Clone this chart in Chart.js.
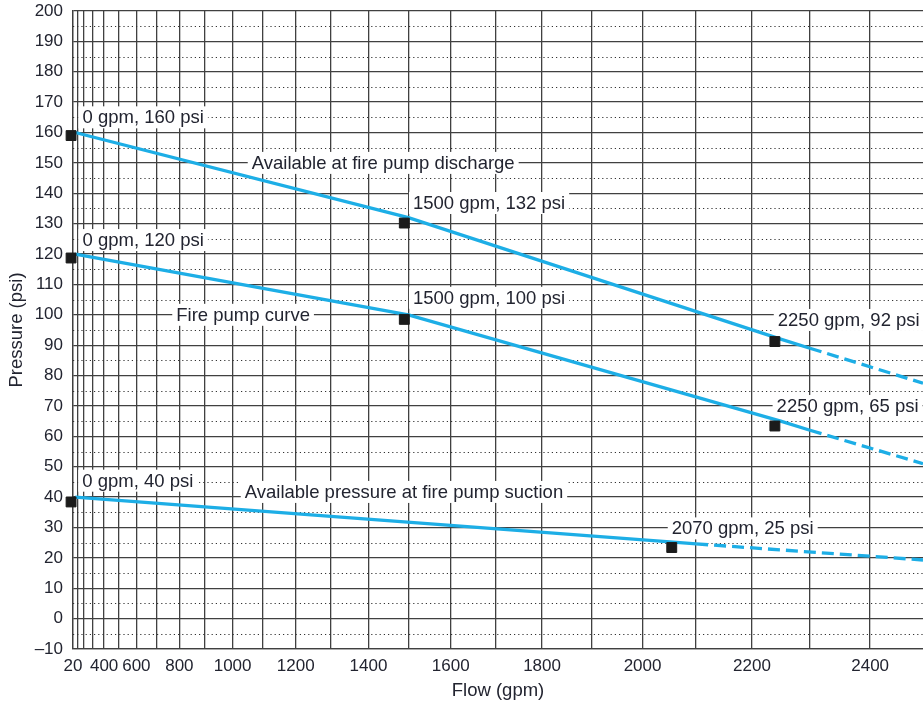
<!DOCTYPE html>
<html>
<head>
<meta charset="utf-8">
<style>
  html, body { margin: 0; padding: 0; background: #fff; }
  #wrap { width: 923px; height: 704px; }
</style>
</head>
<body>
<div id="wrap"><canvas id="chart"></canvas></div>
<script src="https://cdn.jsdelivr.net/npm/chart.js@4/dist/chart.umd.min.js"></script>
<script>
// Fire pump curve on hydraulic graph paper (flow axis is an N^1.85 scale)

const FLOW_MIN = -100;
const FLOW_MAX = 2485;
const PSI_MIN = -10;
const PSI_MAX = 200;

// vertical grid lines every 100 gpm, labels only where the paper prints them
const FLOW_GRID = [-100, 100, 200, 300, 400, 500, 600, 700, 800, 900, 1000, 1100, 1200,
    1300, 1400, 1500, 1600, 1700, 1800, 1900, 2000, 2100, 2200, 2300, 2400];
const FLOW_LABEL_AT = [-100, 400, 600, 800, 1000, 1200, 1400, 1600, 1800, 2000, 2200, 2400];
const FLOW_LABELS = ['20', '400', '600', '800', '1000', '1200', '1400', '1600', '1800', '2000', '2200', '2400'];

// dotted half lines between the 10 psi grid
const DOTTED_PSI = [195, 185, 175, 165, 155, 145, 135, 125, 115, 105, 95, 85, 75, 65, 55, 45, 35, 25, 15, 5, -5];

// curves (last points are where the dashed extension starts / leaves the paper)
const DISCHARGE_FLOW = [0, 1500, 2250, 2300, 2485];
const DISCHARGE_PSI = [160, 132, 92, 89, 77.5];
const PUMP_FLOW = [0, 1500, 2250, 2300, 2485];
const PUMP_PSI = [120, 100, 65, 62, 51];
const SUCTION_FLOW = [0, 2070, 2100, 2485];
const SUCTION_PSI = [40, 25, 24.6, 19.3];
const DASH_FROM = [2300, 2300, 2100];

// black square markers (drawn a little off the curves, as on the paper)
const MARK_FLOW = [-140, 1490, 2240, -140, 1490, 2240, -140, 2055];
const MARK_PSI = [159, 130.2, 91.2, 118.7, 98.5, 63.4, 38.4, 23.4];

// callouts: text, left edge flow, centre psi
const NOTE_TEXT = ['0 gpm, 160 psi', 'Available at fire pump discharge', '1500 gpm, 132 psi',
    '0 gpm, 120 psi', '1500 gpm, 100 psi', 'Fire pump curve', '2250 gpm, 92 psi',
    '2250 gpm, 65 psi', '0 gpm, 40 psi', 'Available pressure at fire pump suction', '2070 gpm, 25 psi'];
const NOTE_FLOW = [190, 1064, 1511, 190, 1511, 787, 2245, 2243, 187, 1041, 2055];
const NOTE_PSI = [165, 150, 136.8, 124.6, 105.6, 100, 98.3, 70, 45.4, 41.7, 29.7];

const FONT = '"Liberation Sans", Arial, sans-serif';
const INK = '#222430';
const GRID = '#404040';
const BLUE = '#1DAEE6';

// ── N^1.85 scale ──
const LinearScale = Chart.LinearScale || Chart.registry.getScale('linear');
const EXP = 1.85;
const pw = (v) => Math.sign(v) * Math.pow(Math.abs(v), EXP);
const unpw = (t) => Math.sign(t) * Math.pow(Math.abs(t), 1 / EXP);

class FlowScale extends LinearScale {
    getPixelForValue(value) {
        const a = pw(this.min), b = pw(this.max);
        return this.getPixelForDecimal((pw(value) - a) / (b - a));
    }
    getValueForPixel(pixel) {
        const a = pw(this.min), b = pw(this.max);
        return unpw(a + this.getDecimalForPixel(pixel) * (b - a));
    }
}
FlowScale.id = 'flow';
FlowScale.defaults = LinearScale.defaults;
Chart.register(FlowScale);

// dotted lines + white-boxed callouts, under the curves
const paper = {
    id: 'paper',
    beforeDatasetsDraw(chart) {
        const { ctx, chartArea: a, scales: { x, y } } = chart;
        ctx.save();
        ctx.strokeStyle = '#333';
        ctx.lineWidth = 1.2;
        ctx.setLineDash([1.2, 3]);
        DOTTED_PSI.forEach((p) => {
            const py = Math.round(y.getPixelForValue(p)) + 0.5;
            ctx.beginPath();
            ctx.moveTo(a.left, py);
            ctx.lineTo(a.right, py);
            ctx.stroke();
        });
        ctx.setLineDash([]);

        ctx.font = '18.5px ' + FONT;
        ctx.textBaseline = 'middle';
        NOTE_TEXT.forEach((t, i) => {
            const px = x.getPixelForValue(NOTE_FLOW[i]);
            const py = y.getPixelForValue(NOTE_PSI[i]);
            const w = ctx.measureText(t).width;
            ctx.fillStyle = '#fff';
            ctx.fillRect(px - 4, py - 11, w + 8, 22);
            ctx.fillStyle = INK;
            ctx.fillText(t, px, py + 1);
        });
        ctx.restore();
    },
};

const curve = (flow, psi, dashFrom) => ({
    type: 'line',
    data: flow.map((q, i) => ({ x: q, y: psi[i] })),
    borderColor: BLUE,
    borderWidth: 3.3,
    pointRadius: 0,
    tension: 0,
    fill: false,
    segment: { borderDash: (c) => (c.p0.parsed.x >= dashFrom ? [12, 6] : undefined) },
});

Chart.defaults.font.family = FONT;
Chart.defaults.color = INK;

new Chart(document.getElementById('chart'), {
    type: 'line',
    data: {
        datasets: [
            {
                type: 'scatter',
                data: MARK_FLOW.map((q, i) => ({ x: q, y: MARK_PSI[i] })),
                pointStyle: 'rect',
                pointRadius: 7,
                backgroundColor: '#1b1b1b',
                borderColor: '#1b1b1b',
                borderWidth: 1,
                clip: false,
            },
            curve(DISCHARGE_FLOW, DISCHARGE_PSI, DASH_FROM[0]),
            curve(PUMP_FLOW, PUMP_PSI, DASH_FROM[1]),
            curve(SUCTION_FLOW, SUCTION_PSI, DASH_FROM[2]),
        ],
    },
    options: {
        responsive: true,
        maintainAspectRatio: false,
        animation: false,
        layout: { autoPadding: false, padding: { top: 11, left: 0, right: 0, bottom: 0 } },
        plugins: { legend: { display: false }, tooltip: { enabled: false } },
        scales: {
            x: {
                type: 'flow',
                min: FLOW_MIN,
                max: FLOW_MAX,
                bounds: 'data',
                afterBuildTicks: (ax) => { ax.ticks = FLOW_GRID.map((v) => ({ value: v })); },
                afterFit: (ax) => { ax.height = 55; ax.paddingLeft = 0; ax.paddingRight = 0; },
                grid: { color: GRID, lineWidth: 1.3, drawTicks: false },
                border: { color: GRID, width: 1.3 },
                ticks: {
                    autoSkip: false,
                    maxRotation: 0,
                    padding: 7,
                    font: { size: 17 },
                    callback: (v) => {
                        const i = FLOW_LABEL_AT.indexOf(v);
                        return i < 0 ? '' : FLOW_LABELS[i];
                    },
                },
                title: { display: true, text: 'Flow (gpm)', font: { size: 18.5 }, padding: { top: 0, bottom: 2 } },
            },
            y: {
                type: 'linear',
                min: PSI_MIN,
                max: PSI_MAX,
                afterFit: (ax) => { ax.width = 73; ax.paddingTop = 0; ax.paddingBottom = 0; },
                grid: { color: GRID, lineWidth: 1.3, drawTicks: false },
                border: { color: GRID, width: 1.3 },
                ticks: {
                    stepSize: 10,
                    padding: 10,
                    font: { size: 17 },
                    callback: (v) => (v < 0 ? '\u2013' + (-v) : String(v)),
                },
                title: { display: true, text: 'Pressure (psi)', font: { size: 18.5 }, padding: { top: 6, bottom: 0 } },
            },
        },
    },
    plugins: [paper],
});
</script>
</body>
</html>
